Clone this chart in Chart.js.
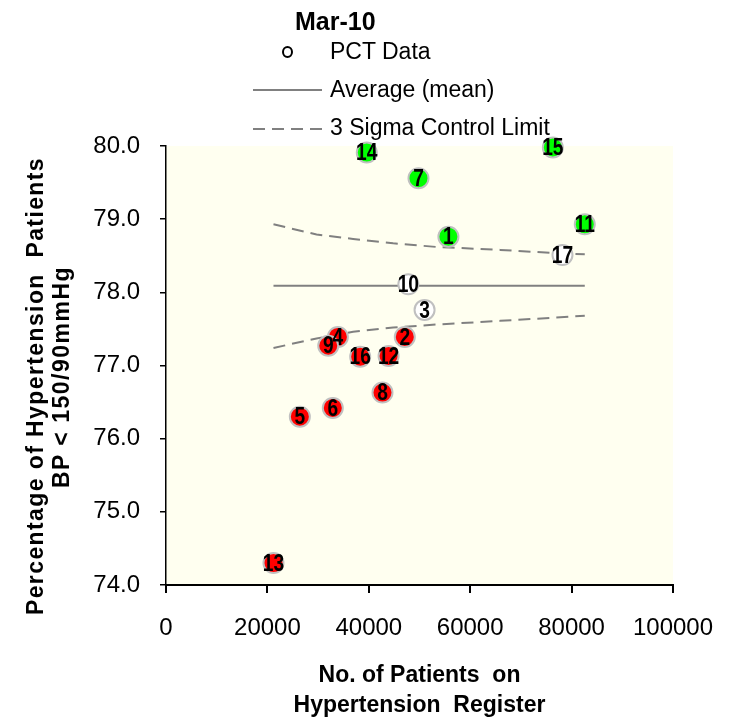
<!DOCTYPE html>
<html lang="en">
<head>
  <meta charset="UTF-8" />
  <title>Hypertension Funnel Plot - Mar-10</title>
  <script src="https://cdn.jsdelivr.net/npm/chart.js"></script>
  <style>
    body { margin: 0; background: #fff; font-family: "Liberation Sans", Arial, sans-serif; }
    #wrap { position: relative; width: 737px; height: 721px; }
    #wrap canvas { position: absolute; left: 0; top: 0; }
    .txt { position: absolute; white-space: nowrap; line-height: 1; color: #000; }
    .ytitle { position: absolute; white-space: nowrap; line-height: 1; font-weight: bold; font-size: 23px;
              transform: translate(-50%, -50%) rotate(-90deg); }
    #legend-svg { position: absolute; left: 0; top: 0; }
  </style>
</head>
<body>
  <div id="wrap">
    <canvas id="funnelChart" width="737" height="721"></canvas>

    <!-- legend -->
    <svg id="legend-svg" width="340" height="140">
      <ellipse cx="287.5" cy="52" rx="4.5" ry="5" fill="none" stroke="#000" stroke-width="2"/>
      <line x1="253" y1="90" x2="322" y2="90" stroke="#808080" stroke-width="2"/>
      <line x1="253" y1="129" x2="322" y2="129" stroke="#808080" stroke-width="2" stroke-dasharray="12 7"/>
    </svg>
    <div class="txt" style="left:295px; top:9px; font-size:25px; font-weight:bold;">Mar-10</div>
    <div class="txt" style="left:330px; top:40px; font-size:23px;">PCT Data</div>
    <div class="txt" style="left:330px; top:78px; font-size:23px;">Average (mean)</div>
    <div class="txt" style="left:330px; top:116px; font-size:23px;">3 Sigma Control Limit</div>

    <!-- y axis title -->
    <div class="ytitle" style="left:35px; top:386px; letter-spacing:1.4px;">Percentage of Hypertension&nbsp; Patients</div>
    <div class="ytitle" style="left:61px; top:377px; letter-spacing:1.5px;">BP &lt; 150/90mmHg</div>
  </div>

  <script>
    // practice data (PCT, Mar-10)
    const practiceIds = ["1","2","3","4","5","6","7","8","9","10","11","12","13","14","15","16","17"];
    const registerSize = [55700, 47100, 51000, 33900, 26400, 32900, 49800, 42700, 32000, 47800, 82600, 43900, 21200, 39600, 76300, 38300, 78200];
    const bpControlled = [78.76, 77.39, 77.76, 77.39, 76.30, 76.42, 79.56, 76.63, 77.27, 78.11, 78.93, 77.13, 74.30, 79.91, 79.98, 77.12, 78.51];
    const signal = ["high","low","none","low","low","low","high","low","low","none","high","low","low","high","high","low","none"];

    // average and 3 sigma control limits
    const meanX = [21200, 82600];
    const meanY = [78.09, 78.09];
    const limitX = [21200, 29700, 36900, 44800, 53400, 65900, 75700, 82600];
    const upperLimit = [78.93, 78.79, 78.73, 78.67, 78.62, 78.58, 78.54, 78.52];
    const lowerLimit = [77.24, 77.37, 77.46, 77.52, 77.56, 77.61, 77.65, 77.68];

    const xTicks = [0, 20000, 40000, 60000, 80000, 100000];
    const yTicks = [74, 75, 76, 77, 78, 79, 80];

    const signalColour = { high: "#00ff00", low: "#ff0000", none: "#ffffff" };

    const toPoints = (xs, ys) => xs.map((x, i) => ({ x: x, y: ys[i] }));

    const plotBackground = {
      id: "plotBackground",
      beforeDraw(chart) {
        const a = chart.chartArea;
        const ctx = chart.ctx;
        ctx.save();
        ctx.fillStyle = "#fffff0";
        ctx.fillRect(a.left, a.top, a.right - a.left, a.bottom - a.top);
        ctx.restore();
      }
    };

    // practice numbers drawn on the markers, squeezed to look like a narrow font
    const pointLabels = {
      id: "pointLabels",
      afterDatasetsDraw(chart) {
        const meta = chart.getDatasetMeta(0);
        const ctx = chart.ctx;
        meta.data.forEach((pt, i) => {
          ctx.save();
          ctx.translate(pt.x, pt.y + 1);
          ctx.scale(0.8, 1);
          ctx.font = 'bold 24px "Liberation Sans", Arial, sans-serif';
          ctx.fillStyle = "#000";
          ctx.textAlign = "center";
          ctx.textBaseline = "middle";
          ctx.fillText(practiceIds[i], 0, 0);
          ctx.restore();
        });
      }
    };

    const tickFont = { family: '"Liberation Sans", Arial, sans-serif', size: 24 };

    new Chart(document.getElementById("funnelChart"), {
      type: "scatter",
      data: {
        datasets: [
          {
            label: "PCT Data",
            data: toPoints(registerSize, bpControlled),
            backgroundColor: signal.map(s => signalColour[s]),
            borderColor: "#c0c0c0",
            borderWidth: 2,
            pointRadius: 10,
            clip: false,
            order: 0
          },
          {
            label: "Average (mean)",
            data: toPoints(meanX, meanY),
            showLine: true,
            borderColor: "#808080",
            borderWidth: 2,
            pointRadius: 0,
            order: 1
          },
          {
            label: "3 Sigma Control Limit",
            data: toPoints(limitX, upperLimit),
            showLine: true,
            borderColor: "#808080",
            borderWidth: 2,
            borderDash: [12, 7],
            pointRadius: 0,
            order: 1
          },
          {
            label: "3 Sigma Control Limit (lower)",
            data: toPoints(limitX, lowerLimit),
            showLine: true,
            borderColor: "#808080",
            borderWidth: 2,
            borderDash: [12, 7],
            pointRadius: 0,
            order: 1
          }
        ]
      },
      options: {
        responsive: false,
        animation: false,
        layout: { padding: { left: 0, top: 146, right: 64, bottom: 0 } },
        plugins: {
          legend: { display: false },
          tooltip: { enabled: false }
        },
        scales: {
          x: {
            type: "linear",
            min: xTicks[0],
            max: xTicks[xTicks.length - 1],
            afterBuildTicks: s => { s.ticks = xTicks.map(v => ({ value: v })); },
            afterFit: s => { s.height = 136; },
            border: { display: true, color: "#000", width: 2 },
            grid: { drawOnChartArea: false, drawTicks: true, tickLength: 8, color: "#000", lineWidth: 2 },
            ticks: { color: "#000", font: tickFont, padding: 21, maxRotation: 0, callback: v => String(v) },
            title: {
              display: true,
              text: ["No. of Patients  on", "Hypertension  Register"],
              color: "#000",
              font: { family: '"Liberation Sans", Arial, sans-serif', size: 23, weight: "bold", lineHeight: 1.3 },
              padding: { top: 0, bottom: 0 }
            }
          },
          y: {
            type: "linear",
            min: yTicks[0],
            max: yTicks[yTicks.length - 1],
            afterBuildTicks: s => { s.ticks = yTicks.map(v => ({ value: v })); },
            afterFit: s => { s.width = 166; },
            border: { display: true, color: "#000", width: 1.5 },
            grid: { drawOnChartArea: false, drawTicks: true, tickLength: 6, color: "#000", lineWidth: 1.5 },
            ticks: { color: "#000", font: tickFont, padding: 20, callback: v => Number(v).toFixed(1) }
          }
        }
      },
      plugins: [plotBackground, pointLabels]
    });
  </script>
</body>
</html>
